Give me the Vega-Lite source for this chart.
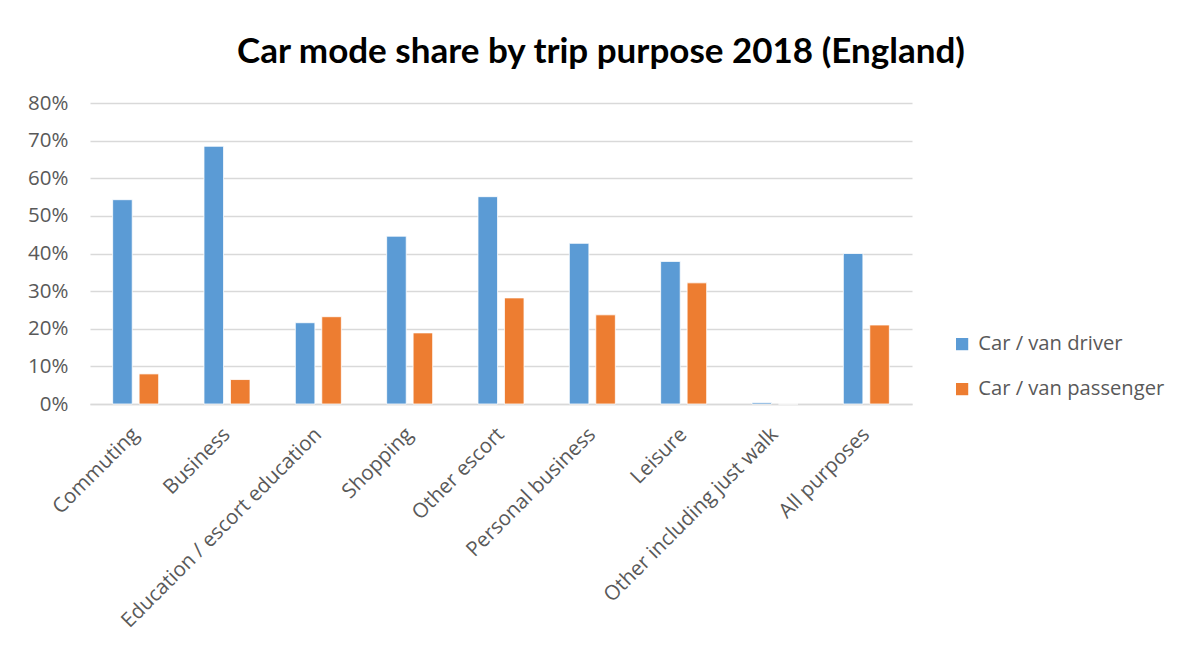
{
  "$schema": "https://vega.github.io/schema/vega-lite/v6.json",
  "width": 822,
  "height": 301,
  "autosize": {"type": "none"},
  "padding": {"left": 90, "top": 103, "right": 278, "bottom": 247},
  "background": "white",
  "title": {
    "text": "Car mode share by trip purpose 2018 (England)",
    "font": "Lato",
    "fontSize": 35,
    "fontWeight": "bold",
    "color": "#000000",
    "anchor": "middle",
    "dx": 100,
    "offset": 23
  },
  "data": {
    "values": [
      {"purpose": "Commuting", "mode": "Car / van driver", "share": 0.543},
      {"purpose": "Commuting", "mode": "Car / van passenger", "share": 0.080},
      {"purpose": "Business", "mode": "Car / van driver", "share": 0.685},
      {"purpose": "Business", "mode": "Car / van passenger", "share": 0.065},
      {"purpose": "Education / escort education", "mode": "Car / van driver", "share": 0.216},
      {"purpose": "Education / escort education", "mode": "Car / van passenger", "share": 0.232},
      {"purpose": "Shopping", "mode": "Car / van driver", "share": 0.446},
      {"purpose": "Shopping", "mode": "Car / van passenger", "share": 0.189},
      {"purpose": "Other escort", "mode": "Car / van driver", "share": 0.551},
      {"purpose": "Other escort", "mode": "Car / van passenger", "share": 0.282},
      {"purpose": "Personal business", "mode": "Car / van driver", "share": 0.427},
      {"purpose": "Personal business", "mode": "Car / van passenger", "share": 0.237},
      {"purpose": "Leisure", "mode": "Car / van driver", "share": 0.379},
      {"purpose": "Leisure", "mode": "Car / van passenger", "share": 0.322},
      {"purpose": "Other including just walk", "mode": "Car / van driver", "share": 0.004},
      {"purpose": "Other including just walk", "mode": "Car / van passenger", "share": 0.0},
      {"purpose": "All purposes", "mode": "Car / van driver", "share": 0.400},
      {"purpose": "All purposes", "mode": "Car / van passenger", "share": 0.210}
    ]
  },
  "mark": {"type": "bar", "stroke": "white", "strokeWidth": 0.8},
  "encoding": {
    "x": {
      "field": "purpose",
      "type": "nominal",
      "sort": null,
      "scale": {"paddingInner": 0.496, "paddingOuter": 0.248},
      "axis": {
        "title": null,
        "labelAngle": -45,
        "labelAlign": "right",
        "labelBaseline": "middle",
        "labelFont": "Open Sans",
        "labelFontSize": 20.5,
        "labelColor": "#595959",
        "labelPadding": 27,
        "labelLimit": 400,
        "ticks": false,
        "tickSize": 0,
        "domain": true,
        "domainColor": "#d9d9d9",
        "domainWidth": 1.5
      }
    },
    "xOffset": {
      "field": "mode",
      "type": "nominal",
      "scale": {"paddingInner": 0.26, "paddingOuter": 0}
    },
    "y": {
      "field": "share",
      "type": "quantitative",
      "scale": {"domain": [0, 0.8], "nice": false},
      "axis": {
        "title": null,
        "format": ".0%",
        "values": [0, 0.1, 0.2, 0.3, 0.4, 0.5, 0.6, 0.7, 0.8],
        "labelFont": "Open Sans",
        "labelFontSize": 20.5,
        "labelColor": "#595959",
        "labelPadding": 22,
        "ticks": false,
        "tickSize": 0,
        "domain": false,
        "grid": true,
        "gridColor": "#d9d9d9",
        "gridWidth": 1.5
      }
    },
    "color": {
      "field": "mode",
      "type": "nominal",
      "scale": {"domain": ["Car / van driver", "Car / van passenger"], "range": ["#5B9BD5", "#ED7D31"]},
      "legend": {
        "title": null,
        "orient": "none",
        "legendX": 862,
        "legendY": 231,
        "symbolType": "square",
        "symbolSize": 150,
        "symbolStrokeWidth": 0,
        "labelFont": "Open Sans",
        "labelFontSize": 20.2,
        "labelColor": "#595959",
        "labelLimit": 300,
        "rowPadding": 24,
        "labelOffset": 6
      }
    }
  },
  "config": {
    "view": {"stroke": null}
  }
}
